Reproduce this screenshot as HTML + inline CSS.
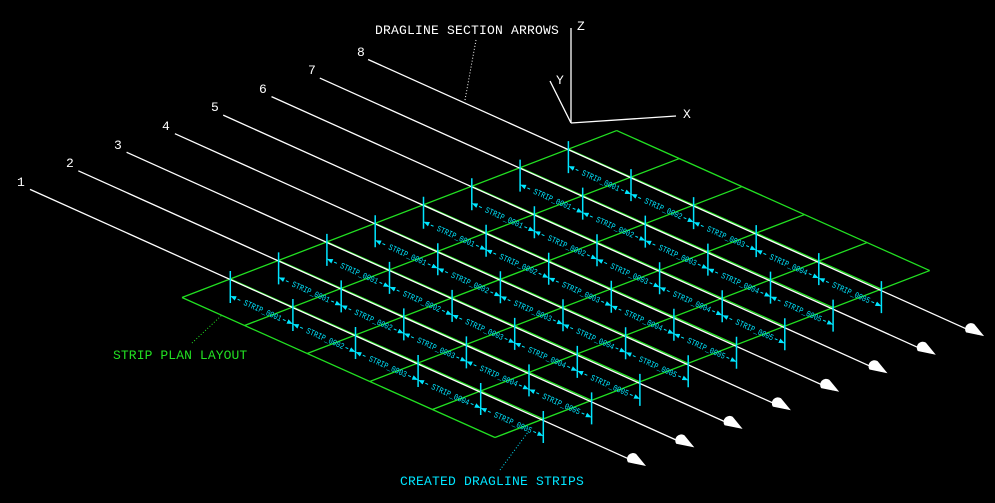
<!DOCTYPE html>
<html><head><meta charset="utf-8"><style>
html,body{margin:0;padding:0;background:#000;}
svg{display:block;}
text{font-family:"Liberation Mono",monospace;}
</style></head><body>
<svg width="995" height="503" viewBox="0 0 995 503" xmlns="http://www.w3.org/2000/svg">
<defs>
<marker id="ar" viewBox="0 0 10 10" refX="10" refY="5" markerWidth="6" markerHeight="6" orient="auto-start-reverse" markerUnits="userSpaceOnUse"><path d="M0,1 L10,5 L0,9 Z" fill="#00e5ff"/></marker>
<g id="dim">
<path d="M0,-8V24 M62.6,20V52 M125.2,48V80 M187.8,76V108 M250.4,104V136 M313,132V164" stroke="#00e5ff" stroke-width="1.5" fill="none"/>
<g stroke="#00e5ff" stroke-width="1" fill="none" stroke-dasharray="3,2">
<line x1="10" y1="21.5" x2="0" y2="17" marker-end="url(#ar)"/><line x1="52.6" y1="40.5" x2="62.6" y2="45" marker-end="url(#ar)"/>
<line x1="72.6" y1="49.5" x2="62.6" y2="45" marker-end="url(#ar)"/><line x1="115.2" y1="68.5" x2="125.2" y2="73" marker-end="url(#ar)"/>
<line x1="135.2" y1="77.5" x2="125.2" y2="73" marker-end="url(#ar)"/><line x1="177.8" y1="96.5" x2="187.8" y2="101" marker-end="url(#ar)"/>
<line x1="197.8" y1="105.5" x2="187.8" y2="101" marker-end="url(#ar)"/><line x1="240.4" y1="124.5" x2="250.4" y2="129" marker-end="url(#ar)"/>
<line x1="260.4" y1="133.5" x2="250.4" y2="129" marker-end="url(#ar)"/><line x1="303" y1="152.5" x2="313" y2="157" marker-end="url(#ar)"/>
</g>
</g>
<path id="ah" d="M0,0 L-14,-7 A6,6 0 0 0 -18,4 Z" fill="#fff"/>
</defs>

<g transform="matrix(48.3,-18.55,62.6,28,182,297.5)" stroke="#22e022" stroke-width="1.3" fill="none">
<path vector-effect="non-scaling-stroke" d="M0,0H9M0,1H9M0,2H9M0,3H9M0,4H9M0,5H9M0,0V5M1,0V5M2,0V5M3,0V5M4,0V5M5,0V5M6,0V5M7,0V5M8,0V5M9,0V5"/>
</g>

<g stroke="#fff" stroke-width="1.3">
<line x1="30" y1="189.35" x2="640" y2="464"/>
<line x1="78.3" y1="170.8" x2="688.3" y2="445.5"/>
<line x1="126.6" y1="152.25" x2="736.6" y2="427"/>
<line x1="174.9" y1="133.7" x2="784.9" y2="408.4"/>
<line x1="223.2" y1="115.15" x2="833.2" y2="389.9"/>
<line x1="271.5" y1="96.6" x2="881.5" y2="371.3"/>
<line x1="319.8" y1="78.05" x2="929.8" y2="352.8"/>
<line x1="368.1" y1="59.5" x2="978.1" y2="334.2"/>
</g>
<g>
<use href="#ah" transform="translate(646,466) rotate(24.1)"/>
<use href="#ah" transform="translate(694.3,447.4) rotate(24.1)"/>
<use href="#ah" transform="translate(742.6,428.9) rotate(24.1)"/>
<use href="#ah" transform="translate(790.9,410.3) rotate(24.1)"/>
<use href="#ah" transform="translate(839.2,391.8) rotate(24.1)"/>
<use href="#ah" transform="translate(887.5,373.2) rotate(24.1)"/>
<use href="#ah" transform="translate(935.8,354.7) rotate(24.1)"/>
<use href="#ah" transform="translate(984.1,336.1) rotate(24.1)"/>
</g>
<g fill="#fff" font-size="13">
<text x="17" y="186">1</text><text x="66" y="167">2</text><text x="114" y="149">3</text><text x="162" y="130">4</text>
<text x="211" y="111">5</text><text x="259" y="93">6</text><text x="308" y="74">7</text><text x="357" y="56">8</text>
</g>

<g font-size="8.5" fill="#00e5ff">
<g transform="translate(230.3,278.95)"><use href="#dim"/>
<text transform="translate(31.3,34) rotate(24.1) scale(0.8,1)" text-anchor="middle">STRIP_0001</text><text transform="translate(93.9,62) rotate(24.1) scale(0.8,1)" text-anchor="middle">STRIP_0002</text><text transform="translate(156.5,90) rotate(24.1) scale(0.8,1)" text-anchor="middle">STRIP_0003</text><text transform="translate(219.1,118) rotate(24.1) scale(0.8,1)" text-anchor="middle">STRIP_0004</text><text transform="translate(281.7,146) rotate(24.1) scale(0.8,1)" text-anchor="middle">STRIP_0005</text></g>
<g transform="translate(278.6,260.4)"><use href="#dim"/>
<text transform="translate(31.3,34) rotate(24.1) scale(0.8,1)" text-anchor="middle">STRIP_0001</text><text transform="translate(93.9,62) rotate(24.1) scale(0.8,1)" text-anchor="middle">STRIP_0002</text><text transform="translate(156.5,90) rotate(24.1) scale(0.8,1)" text-anchor="middle">STRIP_0003</text><text transform="translate(219.1,118) rotate(24.1) scale(0.8,1)" text-anchor="middle">STRIP_0004</text><text transform="translate(281.7,146) rotate(24.1) scale(0.8,1)" text-anchor="middle">STRIP_0005</text></g>
<g transform="translate(326.9,241.85)"><use href="#dim"/>
<text transform="translate(31.3,34) rotate(24.1) scale(0.8,1)" text-anchor="middle">STRIP_0001</text><text transform="translate(93.9,62) rotate(24.1) scale(0.8,1)" text-anchor="middle">STRIP_0002</text><text transform="translate(156.5,90) rotate(24.1) scale(0.8,1)" text-anchor="middle">STRIP_0003</text><text transform="translate(219.1,118) rotate(24.1) scale(0.8,1)" text-anchor="middle">STRIP_0004</text><text transform="translate(281.7,146) rotate(24.1) scale(0.8,1)" text-anchor="middle">STRIP_0005</text></g>
<g transform="translate(375.2,223.3)"><use href="#dim"/>
<text transform="translate(31.3,34) rotate(24.1) scale(0.8,1)" text-anchor="middle">STRIP_0001</text><text transform="translate(93.9,62) rotate(24.1) scale(0.8,1)" text-anchor="middle">STRIP_0002</text><text transform="translate(156.5,90) rotate(24.1) scale(0.8,1)" text-anchor="middle">STRIP_0003</text><text transform="translate(219.1,118) rotate(24.1) scale(0.8,1)" text-anchor="middle">STRIP_0004</text><text transform="translate(281.7,146) rotate(24.1) scale(0.8,1)" text-anchor="middle">STRIP_0005</text></g>
<g transform="translate(423.5,204.75)"><use href="#dim"/>
<text transform="translate(31.3,34) rotate(24.1) scale(0.8,1)" text-anchor="middle">STRIP_0001</text><text transform="translate(93.9,62) rotate(24.1) scale(0.8,1)" text-anchor="middle">STRIP_0002</text><text transform="translate(156.5,90) rotate(24.1) scale(0.8,1)" text-anchor="middle">STRIP_0003</text><text transform="translate(219.1,118) rotate(24.1) scale(0.8,1)" text-anchor="middle">STRIP_0004</text><text transform="translate(281.7,146) rotate(24.1) scale(0.8,1)" text-anchor="middle">STRIP_0005</text></g>
<g transform="translate(471.8,186.2)"><use href="#dim"/>
<text transform="translate(31.3,34) rotate(24.1) scale(0.8,1)" text-anchor="middle">STRIP_0001</text><text transform="translate(93.9,62) rotate(24.1) scale(0.8,1)" text-anchor="middle">STRIP_0002</text><text transform="translate(156.5,90) rotate(24.1) scale(0.8,1)" text-anchor="middle">STRIP_0003</text><text transform="translate(219.1,118) rotate(24.1) scale(0.8,1)" text-anchor="middle">STRIP_0004</text><text transform="translate(281.7,146) rotate(24.1) scale(0.8,1)" text-anchor="middle">STRIP_0005</text></g>
<g transform="translate(520.1,167.65)"><use href="#dim"/>
<text transform="translate(31.3,34) rotate(24.1) scale(0.8,1)" text-anchor="middle">STRIP_0001</text><text transform="translate(93.9,62) rotate(24.1) scale(0.8,1)" text-anchor="middle">STRIP_0002</text><text transform="translate(156.5,90) rotate(24.1) scale(0.8,1)" text-anchor="middle">STRIP_0003</text><text transform="translate(219.1,118) rotate(24.1) scale(0.8,1)" text-anchor="middle">STRIP_0004</text><text transform="translate(281.7,146) rotate(24.1) scale(0.8,1)" text-anchor="middle">STRIP_0005</text></g>
<g transform="translate(568.4,149.1)"><use href="#dim"/>
<text transform="translate(31.3,34) rotate(24.1) scale(0.8,1)" text-anchor="middle">STRIP_0001</text><text transform="translate(93.9,62) rotate(24.1) scale(0.8,1)" text-anchor="middle">STRIP_0002</text><text transform="translate(156.5,90) rotate(24.1) scale(0.8,1)" text-anchor="middle">STRIP_0003</text><text transform="translate(219.1,118) rotate(24.1) scale(0.8,1)" text-anchor="middle">STRIP_0004</text><text transform="translate(281.7,146) rotate(24.1) scale(0.8,1)" text-anchor="middle">STRIP_0005</text></g>
</g>

<g stroke="#fff" stroke-width="1.3" fill="none">
<line x1="571" y1="123" x2="571" y2="28"/>
<line x1="571" y1="123" x2="676" y2="116"/>
<line x1="571" y1="123" x2="550" y2="81"/>
</g>
<g fill="#fff" font-size="13">
<text x="577" y="30">Z</text><text x="556" y="84">Y</text><text x="683" y="118">X</text>
<text x="375" y="34" letter-spacing="0.2">DRAGLINE SECTION ARROWS</text>
</g>
<line x1="476" y1="40" x2="465" y2="100" stroke="#fff" stroke-width="1" stroke-dasharray="1,2"/>

<text x="113" y="359" fill="#22e022" font-size="13" letter-spacing="0.1">STRIP PLAN LAYOUT</text>
<line x1="192" y1="343" x2="222" y2="315" stroke="#22e022" stroke-width="1" stroke-dasharray="1,2"/>

<text x="400" y="485" fill="#00e5ff" font-size="13" letter-spacing="0.2">CREATED DRAGLINE STRIPS</text>
<line x1="500" y1="470" x2="528" y2="432" stroke="#00e5ff" stroke-width="1" stroke-dasharray="1,2"/>
</svg>
</body></html>
